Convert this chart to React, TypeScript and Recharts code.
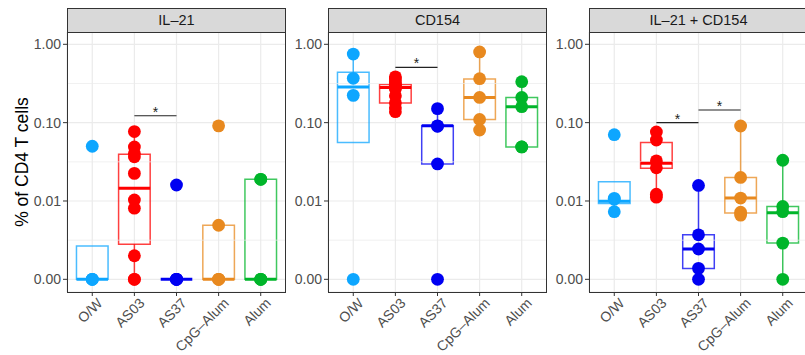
import React from 'react';
import { ComposedChart, XAxis, YAxis, CartesianGrid, Scatter, ReferenceArea, ReferenceLine } from 'recharts';

const categories = ['O/W', 'AS03', 'AS37', 'CpG–Alum', 'Alum'];
const groupColors = ['#0DA6FF', '#FF0000', '#0000F2', '#E8891F', '#00B52A'];
const yTicks = [0.001, 0.01, 0.1, 1];
const yMinorTicks = [0.00316, 0.0316, 0.316];
const panelTitles = ['IL–21', 'CD154', 'IL–21 + CD154'];

// points per group (values below 0.001 are shown at 0.001 = "0.00")
const il21Points = [
  [0.05, 0.001, 0.001, 0.001],
  [0.077, 0.049, 0.0405, 0.0367, 0.0225, 0.0103, 0.0081, 0.002, 0.001, 0.001],
  [0.016, 0.001, 0.001, 0.001, 0.001],
  [0.091, 0.0049, 0.001, 0.001, 0.001],
  [0.0189, 0.0189, 0.001, 0.001, 0.001],
];
const cd154Points = [
  [0.75, 0.368, 0.223, 0.001],
  [0.385, 0.36, 0.33, 0.31, 0.3, 0.29, 0.28, 0.27, 0.22, 0.18, 0.155, 0.138],
  [0.151, 0.091, 0.09, 0.0297, 0.001],
  [0.8, 0.364, 0.21, 0.11, 0.0805],
  [0.333, 0.21, 0.16, 0.049, 0.049],
];
const bothPoints = [
  [0.0702, 0.0108, 0.0105, 0.0073],
  [0.076, 0.06, 0.0325, 0.0265, 0.0122, 0.0112],
  [0.0158, 0.0037, 0.00244, 0.00138, 0.001],
  [0.0906, 0.02, 0.0109, 0.0072, 0.0066],
  [0.0331, 0.0085, 0.0073, 0.0029, 0.001],
];

// box stats per group: [lowWhisker, q1, median, q3, highWhisker]
const il21Boxes = [
  [0.001, 0.001, 0.001, 0.00266, 0.00266],
  [0.001, 0.0028, 0.0145, 0.0396, 0.077],
  [0.001, 0.001, 0.001, 0.001, 0.001],
  [0.001, 0.001, 0.001, 0.0049, 0.0049],
  [0.001, 0.001, 0.001, 0.0189, 0.0189],
];
const cd154Boxes = [
  [0.056, 0.056, 0.285, 0.44, 0.75],
  [0.138, 0.178, 0.282, 0.308, 0.385],
  [0.0297, 0.0297, 0.091, 0.091, 0.151],
  [0.0805, 0.11, 0.21, 0.36, 0.8],
  [0.049, 0.049, 0.16, 0.21, 0.333],
];
const bothBoxes = [
  [0.0073, 0.0093, 0.0099, 0.0176, 0.0176],
  [0.0112, 0.0262, 0.0303, 0.056, 0.076],
  [0.001, 0.00137, 0.00244, 0.0037, 0.0158],
  [0.0066, 0.007, 0.0109, 0.02, 0.0906],
  [0.001, 0.0029, 0.0071, 0.0085, 0.0331],
];

// significance brackets: [fromGroup, toGroup, yValue]
const il21Sig = [[1, 2, 0.1225]];
const cd154Sig = [[1, 2, 0.508]];
const bothSig = [[1, 2, 0.1], [2, 3, 0.145]];

const panelLefts = [67, 328, 589];
const PANEL_W = 219;
const AXIS_W = 67;
const FONT = '"Liberation Sans", Arial, Helvetica, sans-serif';
const Y_DOMAIN = [0.000689, 1.436];
const HALF = 0.375;

const XTick = (props: any) => {
  const { x, y, payload } = props;
  return (
    <g transform={`translate(${x + 4},${y - 1})`}>
      <text transform="rotate(-45)" textAnchor="end" dy="0.71em" fill="#4D4D4D" fontSize={14} fontFamily={FONT}>
        {categories[payload.value]}
      </text>
    </g>
  );
};

const YLabel = (props: any) => {
  const vb = props.viewBox || {};
  const cx = 22;
  const cy = (vb.y || 32) + (vb.height || 260) / 2;
  return (
    <text x={cx} y={cy} transform={`rotate(-90, ${cx}, ${cy})`} textAnchor="middle" dominantBaseline="central"
      fontSize={17.5} fill="#000" fontFamily={FONT}>
      % of CD4 T cells
    </text>
  );
};

function Panel({ idx, points, boxes, sigs }: any) {
  const left = panelLefts[idx];
  return (
    <div style={{ position: 'absolute', left: left - AXIS_W, top: 0 }}>
      <ComposedChart width={AXIS_W + PANEL_W} height={355} margin={{ top: 32, right: 0, bottom: 0, left: 0 }}
        style={{ overflow: 'visible' }}>
        <CartesianGrid stroke="#EBEBEB" strokeWidth={1.2} />
        <XAxis type="number" dataKey="x" domain={[-0.6, 4.6]} ticks={[0, 1, 2, 3, 4]} interval={0}
          allowDataOverflow tick={<XTick />} tickSize={4} tickLine={{ stroke: '#333333' }} axisLine={false} height={63} />
        <YAxis type="number" dataKey="y" scale="log" domain={Y_DOMAIN} allowDataOverflow ticks={yTicks} interval={0}
          width={AXIS_W} tickSize={4} tickLine={{ stroke: '#333333' }} axisLine={false}
          tickFormatter={(v: number) => v.toFixed(2)}
          tick={{ fill: '#4D4D4D', fontSize: 14, fontFamily: FONT }}
          label={idx === 0 ? <YLabel /> : undefined} />
        {yMinorTicks.map((v, i) => (
          <ReferenceLine key={'m' + i} y={v} stroke="#EBEBEB" strokeWidth={0.7} />
        ))}
        {boxes.map((b: number[], i: number) => (
          <ReferenceArea key={'b' + i} x1={i - HALF} x2={i + HALF} y1={b[1]} y2={b[3]} fill="none"
            stroke={groupColors[i]} strokeOpacity={0.75} strokeWidth={1.5} ifOverflow="visible" />
        ))}
        {boxes.map((b: number[], i: number) => b[4] > b[3] ? (
          <ReferenceLine key={'wh' + i} segment={[{ x: i, y: b[3] }, { x: i, y: b[4] }]}
            stroke={groupColors[i]} strokeOpacity={0.75} strokeWidth={1.5} ifOverflow="visible" />
        ) : null)}
        {boxes.map((b: number[], i: number) => b[0] < b[1] ? (
          <ReferenceLine key={'wl' + i} segment={[{ x: i, y: b[0] }, { x: i, y: b[1] }]}
            stroke={groupColors[i]} strokeOpacity={0.75} strokeWidth={1.5} ifOverflow="visible" />
        ) : null)}
        {boxes.map((b: number[], i: number) => (
          <ReferenceLine key={'md' + i} segment={[{ x: i - HALF, y: b[2] }, { x: i + HALF, y: b[2] }]}
            stroke={groupColors[i]} strokeWidth={3} ifOverflow="visible" />
        ))}
        {points.map((pts: number[], i: number) => (
          <Scatter key={'p' + i} data={pts.map((v) => ({ x: i, y: v }))} dataKey="y" isAnimationActive={false}
            shape={(p: any) => <circle cx={p.cx} cy={p.cy} r={6.4} fill={groupColors[i]} />} />
        ))}
        {sigs.map((s: number[], i: number) => (
          <ReferenceLine key={'s' + i} segment={[{ x: s[0], y: s[2] }, { x: s[1], y: s[2] }]}
            stroke="#222222" strokeWidth={1.1} ifOverflow="visible" />
        ))}
        {sigs.map((s: number[], i: number) => (
          <Scatter key={'st' + i} data={[{ x: (s[0] + s[1]) / 2, y: s[2] }]} dataKey="y" isAnimationActive={false}
            shape={(p: any) => (
              <text x={p.cx} y={p.cy + 1} textAnchor="middle" fontSize={14} fill="#222222" fontFamily={FONT}>*</text>
            )} />
        ))}
      </ComposedChart>
    </div>
  );
}

export default function App() {
  return (
    <div style={{ position: 'absolute', left: 0, top: 0, width: 805, height: 355, overflow: 'hidden', background: '#fff', fontFamily: FONT }}>
      <Panel idx={0} points={il21Points} boxes={il21Boxes} sigs={il21Sig} />
      <Panel idx={1} points={cd154Points} boxes={cd154Boxes} sigs={cd154Sig} />
      <Panel idx={2} points={bothPoints} boxes={bothBoxes} sigs={bothSig} />
      {panelLefts.map((l, i) => (
        <React.Fragment key={i}>
          <div style={{ position: 'absolute', left: l, top: 8, width: PANEL_W, height: 25, boxSizing: 'border-box',
            background: '#D9D9D9', border: '1px solid #333333', textAlign: 'center', fontSize: 14.5, lineHeight: '23px',
            color: '#1A1A1A' }}>{panelTitles[i]}</div>
          <div style={{ position: 'absolute', left: l, top: 32, width: PANEL_W, height: 261, boxSizing: 'border-box',
            border: '1px solid #333333', pointerEvents: 'none' }} />
        </React.Fragment>
      ))}
    </div>
  );
}
